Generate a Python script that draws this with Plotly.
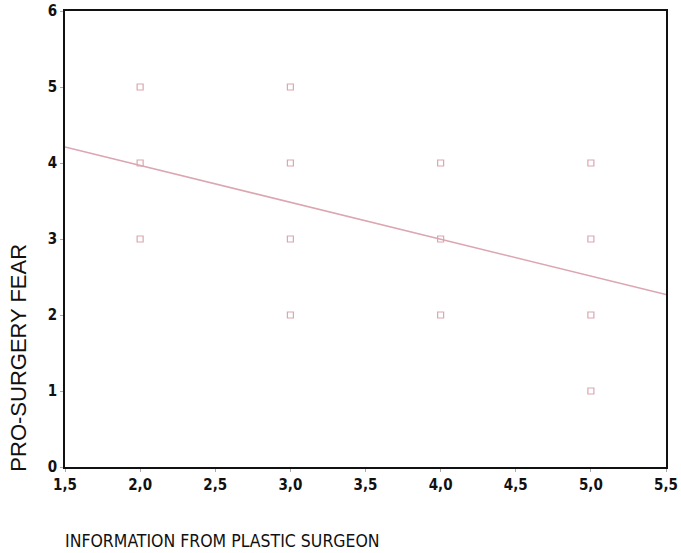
import plotly.graph_objects as go

# Observed responses
info_score = [2, 2, 2, 3, 3, 3, 3, 4, 4, 4, 5, 5, 5, 5]
fear_score = [5, 4, 3, 5, 4, 3, 2, 4, 3, 2, 4, 3, 2, 1]

# Fitted regression line endpoints
fit_x = [1.5, 5.5]
fit_y = [4.21, 2.27]

x_ticks = [1.5, 2.0, 2.5, 3.0, 3.5, 4.0, 4.5, 5.0, 5.5]
x_tick_text = ["1,5", "2,0", "2,5", "3,0", "3,5", "4,0", "4,5", "5,0", "5,5"]
y_ticks = [0, 1, 2, 3, 4, 5, 6]

pink = "#dba6b1"

fig = go.Figure()
fig.add_trace(go.Scatter(
    x=info_score, y=fear_score, mode="markers",
    marker=dict(symbol="square-open", size=6, color=pink, line=dict(width=1.2, color=pink)),
    showlegend=False, hoverinfo="skip",
))
fig.add_trace(go.Scatter(
    x=fit_x, y=fit_y, mode="lines",
    line=dict(color=pink, width=1.6),
    showlegend=False, hoverinfo="skip",
))

narrow = "DejaVu Sans Condensed, Liberation Sans, sans-serif"
axis_font = dict(family=narrow, size=15, color="#111111", weight="bold")

fig.update_xaxes(
    range=[1.5, 5.5], tickvals=x_ticks, ticktext=x_tick_text, automargin=False,
    showgrid=False, zeroline=False, showline=True, linecolor="#111111", linewidth=1.8,
    mirror=True, ticks="outside", ticklen=3, tickcolor="#aaaaaa", tickfont=axis_font,
)
fig.update_yaxes(
    range=[0, 6], tickvals=y_ticks, automargin=False,
    showgrid=False, zeroline=False, showline=True, linecolor="#111111", linewidth=1.8,
    mirror=True, ticks="outside", ticklen=3, tickcolor="#aaaaaa", tickfont=axis_font,
)

fig.update_layout(
    width=681, height=553,
    margin=dict(l=65, r=15, t=11, b=86),
    paper_bgcolor="white", plot_bgcolor="white",
    font=dict(family="Liberation Sans, Arial, sans-serif", color="#111111"),
    annotations=[
        dict(text="PRO-SURGERY FEAR", xref="paper", yref="paper",
             x=-0.078, y=0.24, xanchor="center", yanchor="middle",
             textangle=-90, showarrow=False, font=dict(size=22)),
        dict(text="INFORMATION FROM PLASTIC SURGEON", xref="paper", yref="paper",
             x=-0.003, y=-0.162, xanchor="left", yanchor="middle",
             showarrow=False, font=dict(family=narrow, size=17.5)),
    ],
)

fig.write_html("out.html")
